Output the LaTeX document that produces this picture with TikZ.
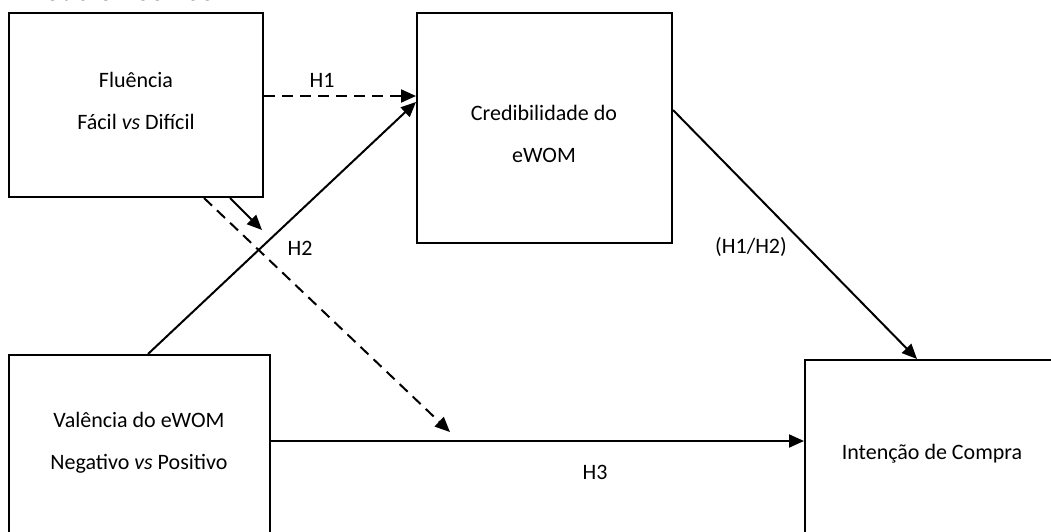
\documentclass[tikz,border=0pt]{standalone}
\usepackage{fontspec}
\setmainfont{Carlito}
\newfontfamily\titleFont{Liberation Serif}
\usetikzlibrary{positioning, arrows.meta}
\tikzstyle{model} = [x = 1pt, y = -1pt]
\tikzstyle{boxStyle} = [draw, line width = 2pt, inner sep = 0pt]
\tikzstyle{boxText} = [align = center, inner sep = 0pt, font = \fontsize{22}{42}\selectfont]
\tikzstyle{hypText} = [inner sep = 0pt, font = \fontsize{22}{26}\selectfont]
\tikzstyle{pathStyle} = [line width = 2pt, -{Triangle[length = 15pt, width = 13pt]}]
\tikzstyle{dashedPath} = [pathStyle, dash pattern = on 11pt off 7pt]
\newcommand{\modelBox}[5]{\node [boxStyle, minimum width = #4pt, minimum height = #5pt] (#1) at (#2, #3) {};}
\newcommand{\modelText}[4]{\node [boxText] (#1) at (#2, #3) {#4};}
\newcommand{\hypothesis}[4]{\node [hypText] (#1) at (#2, #3) {#4};}
\begin{document}
\begin{tikzpicture}[model]
  \useasboundingbox (0, 0) rectangle (1051, 531);
  \node [anchor = base west, inner sep = 0pt, font = \titleFont\itshape\fontsize{31}{36}\selectfont] (title) at (20, 0) {Modelo Teórico};

  \modelBox{flu}{136}{105}{254}{184}
  \modelBox{cred}{544.5}{128}{255}{230}
  \modelBox{val}{139.5}{470}{261}{230}
  \modelBox{int}{932.5}{475}{255}{230}

  \modelText{fluText}{136}{100.5}{Fluência\\Fácil \textit{vs} Difícil}
  \modelText{credText}{544}{133.5}{Credibilidade do\\eWOM}
  \modelText{valText}{139}{442.5}{Valência do eWOM\\Negativo \textit{vs} Positivo}
  \modelText{intText}{932}{454}{Intenção de Compra}

  \coordinate (fluTip) at (262, 230);
  \coordinate (longTip) at (450, 432);

  \draw [dashedPath] ([yshift = 9pt] flu.east) -- ([yshift = 32pt] cred.west);
  \draw [pathStyle] ([xshift = 8.5pt] val.north) -- ([yshift = 26pt] cred.west);
  \draw [pathStyle] ([xshift = 94pt] flu.south) -- (fluTip);
  \draw [dashedPath] ([xshift = 68pt] flu.south) -- (longTip);
  \draw [pathStyle] ([yshift = 29pt] val.east) -- ([yshift = 34pt] int.west);
  \draw [pathStyle] ([yshift = 18pt] cred.east) -- ([xshift = -15.5pt] int.north);

  \hypothesis{h1}{322}{80}{H1}
  \hypothesis{h2}{300}{248}{H2}
  \hypothesis{h3}{595}{472}{H3}
  \hypothesis{h12}{751}{247}{(H1/H2)}
\end{tikzpicture}
\end{document}
